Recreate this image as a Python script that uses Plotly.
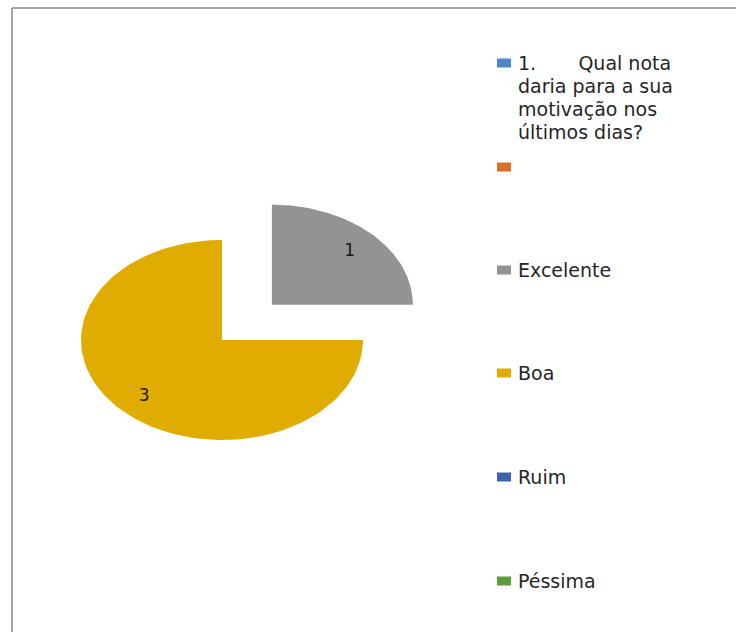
import numpy as np
import plotly.graph_objects as go

# ---- data ----
categories = [
    "1.\u00a0\u00a0\u00a0\u00a0\u00a0\u00a0\u00a0Qual nota daria para a sua motivação nos últimos dias?",
    "",
    "Excelente",
    "Boa",
    "Ruim",
    "Péssima",
]
legend_labels = [
    "1.\u00a0\u00a0\u00a0\u00a0\u00a0\u00a0\u00a0Qual nota<br>daria para a sua<br>motivação nos<br>últimos dias?",
    "",
    "Excelente",
    "Boa",
    "Ruim",
    "Péssima",
]
values = [0, 0, 1, 3, 0, 0]

# ---- style ----
colors = ["#4F86C3", "#D86F2B", "#939393", "#E1AC00", "#3D63AE", "#609B3F"]
explode = [0, 0, 0.5, 0, 0, 0]
W, H = 736, 632
cx_px, cy_px = 222, 340      # pie centre in pixels
rx_px, ry_px = 141, 100      # horizontal / vertical radius in pixels
FONT = "DejaVu Sans"

fig = go.Figure()

total = float(sum(values))
angle = 90.0  # start at 12 o'clock, clockwise
for cat, val, col, ex in zip(categories, values, colors, explode):
    if val <= 0:
        continue
    sweep = 360.0 * val / total
    a0, a1 = angle, angle - sweep
    mid = np.radians((a0 + a1) / 2)
    ox, oy = ex * np.cos(mid), ex * np.sin(mid)
    th = np.radians(np.linspace(a0, a1, 120))
    xs = np.concatenate([[ox], ox + np.cos(th), [ox]])
    ys = np.concatenate([[oy], oy + np.sin(th), [oy]])
    fig.add_trace(go.Scatter(x=xs, y=ys, mode="lines", fill="toself",
                             fillcolor=col, line=dict(width=0, color=col),
                             showlegend=False, hoverinfo="text", text=f"{cat}: {val}"))
    lr = 0.78
    fig.add_trace(go.Scatter(x=[ox + lr * np.cos(mid)], y=[oy + lr * np.sin(mid) - 0.02],
                             mode="text", text=[str(val)],
                             textfont=dict(family=FONT, size=17, color="#1a1a1a"),
                             showlegend=False, hoverinfo="skip"))
    angle = a1

# axes: 1 unit = radius in pixels
fig.update_xaxes(range=[-cx_px / rx_px, (W - cx_px) / rx_px], domain=[0, 1],
                 visible=False, fixedrange=True)
fig.update_yaxes(range=[-(H - cy_px) / ry_px, cy_px / ry_px], domain=[0, 1],
                 visible=False, fixedrange=True)

def px(x):
    return x / W

def py(y):
    return 1 - y / H

def dx(x):
    return (x - cx_px) / rx_px

def dy(y):
    return (cy_px - y) / ry_px

shapes = []
# chart frame
shapes.append(dict(type="line", xref="paper", yref="paper", x0=px(12), x1=px(740),
                   y0=py(8), y1=py(8), line=dict(color="#878787", width=1.5)))
shapes.append(dict(type="line", xref="paper", yref="paper", x0=px(12), x1=px(12),
                   y0=py(8), y1=py(640), line=dict(color="#878787", width=1.5)))

# manual legend
legend_y = [63, 167, 270, 373, 477, 581]
line_gap = 23
tx, ty, tt = [], [], []
for lab, col, ly in zip(legend_labels, colors, legend_y):
    shapes.append(dict(type="rect", xref="paper", yref="paper",
                       x0=px(497), x1=px(511), y0=py(ly - 4.5), y1=py(ly + 4.5),
                       fillcolor=col, line=dict(width=0)))
    if lab:
        for i, part in enumerate(lab.split("<br>")):
            tx.append(dx(518))
            ty.append(dy(ly + 2 + i * line_gap))
            tt.append(part)
fig.add_trace(go.Scatter(x=tx, y=ty, text=tt, mode="text",
                         textposition="middle right", cliponaxis=False,
                         textfont=dict(family=FONT, size=19, color="#262626"),
                         showlegend=False, hoverinfo="skip"))

fig.update_layout(width=W, height=H, autosize=False,
                  margin=dict(l=0, r=0, t=0, b=0),
                  paper_bgcolor="white", plot_bgcolor="white",
                  shapes=shapes, showlegend=False)

fig.write_html("out.html")
